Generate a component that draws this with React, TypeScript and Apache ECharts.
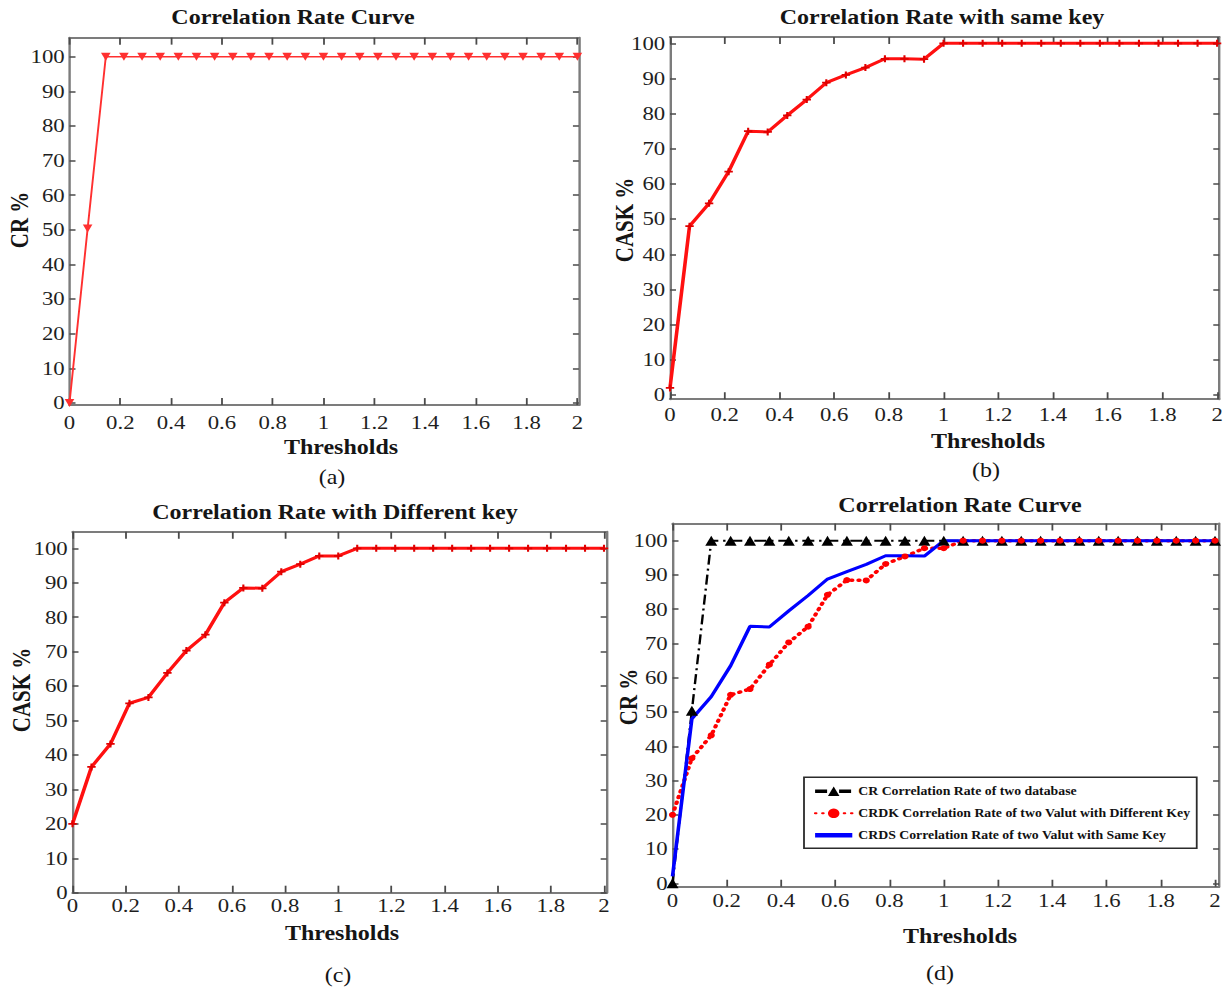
import React, { useEffect, useRef } from "react";
import * as echarts from "echarts";

// ---------------- data ----------------
const thresholds = [
  0, 0.0714, 0.1429, 0.2143, 0.2857, 0.3571, 0.4286, 0.5, 0.5714, 0.6429,
  0.7143, 0.7857, 0.8571, 0.9286, 1, 1.0714, 1.1429, 1.2143, 1.2857, 1.3571,
  1.4286, 1.5, 1.5714, 1.6429, 1.7143, 1.7857, 1.8571, 1.9286, 2,
];
// (a) / CR : correlation rate of two database
const crRate = [
  0, 50.4, 100, 100, 100, 100, 100, 100, 100, 100, 100, 100, 100, 100, 100,
  100, 100, 100, 100, 100, 100, 100, 100, 100, 100, 100, 100, 100, 100,
];
// (b) / CRDS : same key
const sameKeyRate = [
  2, 48, 54.5, 63.5, 75, 74.8, 79.5, 84, 88.8, 91, 93.1, 95.6, 95.6, 95.5, 100,
  100, 100, 100, 100, 100, 100, 100, 100, 100, 100, 100, 100, 100, 100,
];
// (c) / CRDK : different key
const diffKeyRate = [
  20, 36.5, 43.2, 55, 56.7, 63.8, 70.3, 74.9, 84.2, 88.5, 88.4, 93.2, 95.4,
  97.8, 97.8, 100, 100, 100, 100, 100, 100, 100, 100, 100, 100, 100, 100, 100,
  100,
];
const xTicks = [0, 0.2, 0.4, 0.6, 0.8, 1, 1.2, 1.4, 1.6, 1.8, 2];
const yTicks = [0, 10, 20, 30, 40, 50, 60, 70, 80, 90, 100];
const panelTitles = [
  "Correlation Rate Curve",
  "Correlation Rate with same key",
  "Correlation Rate with Different key",
  "Correlation Rate Curve",
];
const yNames = ["CR %", "CASK %", "CASK %", "CR %"];
const xName = "Thresholds";
const captions = ["(a)", "(b)", "(c)", "(d)"];
const legendNames = [
  "CR Correlation Rate of two database",
  "CRDK Correlation Rate of two Valut with Different Key",
  "CRDS Correlation Rate of two Valut with Same Key",
];

// ---------------- layout ----------------
const S = 1.2; // the figure is horizontally stretched
const W = 1226 / S;
const H = 987;
const X = (v: number) => v / S;
const FONT = "'Liberation Serif', 'Times New Roman', serif";

const PANELS = [
  { x0: 69.5, x2: 577.4, xMax: 2.006, y0: 403, y100: 56.7, yMin: -0.6, yMax: 105.5, lm: 8, title: [293, 17], yName: [19.8, 220], xName: [341, 447], caption: [332, 477] },
  { x0: 670, x2: 1219.8, xMax: 2.008, y0: 395, y100: 43.3, yMin: -1.2, yMax: 101.8, lm: 6, title: [942, 17], yName: [624, 220], xName: [988, 441.7], caption: [986, 470] },
  { x0: 72.5, x2: 604, xMax: 2.01, y0: 892.7, y100: 548.3, yMin: 0, yMax: 104.8, lm: 3, title: [335, 512], yName: [21.8, 690], xName: [342, 933.3], caption: [338, 975] },
  { x0: 672.5, x2: 1215, xMax: 2.015, y0: 883.3, y100: 540.7, yMin: -1, yMax: 105, lm: 4, title: [960, 505], yName: [628, 697], xName: [960, 936.7], caption: [940, 973] },
];

const AXIS_COLOR = "#7c7c7c";
const TICK_COLOR = "#4a4a4a";
const RED = "#ff1010";
const PLUS = "path://M3,0H5V3H8V5H5V8H3V5H0V3H3Z";

const pairs = (ys: number[]) => thresholds.map((x, i) => [x, ys[i]]);

function buildOption() {
  const grids: any[] = [];
  const xAxes: any[] = [];
  const yAxes: any[] = [];
  const titles: any[] = [];
  const graphics: any[] = [];

  const labelStyle = { fontFamily: FONT, fontSize: 19, color: "#1e1e1e" };

  PANELS.forEach((p) => {
    const pxX = (p.x2 - p.x0) / 2;
    const pxY = (p.y0 - p.y100) / 100;
    grids.push({
      left: X(p.x0),
      width: X(pxX * p.xMax),
      top: p.y100 - (p.yMax - 100) * pxY,
      height: (p.yMax - p.yMin) * pxY,
      containLabel: false,
    });
  });

  // bottom / left axes (with labels)
  PANELS.forEach((p, i) => {
    xAxes.push({
      type: "value",
      gridIndex: i,
      position: "bottom",
      min: 0,
      max: p.xMax,
      axisLine: { show: true, onZero: false, lineStyle: { color: AXIS_COLOR, width: 2 } },
      axisTick: { show: true, inside: true, length: 7, customValues: xTicks, lineStyle: { color: TICK_COLOR, width: 1.5 } },
      axisLabel: { show: true, margin: p.lm, customValues: xTicks, formatter: (v: number) => String(v), ...labelStyle },
      splitLine: { show: false },
    });
    yAxes.push({
      type: "value",
      gridIndex: i,
      position: "left",
      min: p.yMin,
      max: p.yMax,
      axisLine: { show: true, onZero: false, lineStyle: { color: AXIS_COLOR, width: 2 } },
      axisTick: { show: true, inside: true, length: 5, customValues: yTicks, lineStyle: { color: TICK_COLOR, width: 1.5 } },
      axisLabel: { show: true, margin: 4, customValues: yTicks, formatter: (v: number) => String(v), ...labelStyle },
      splitLine: { show: false },
    });
  });
  // top / right axes (box, ticks only)
  PANELS.forEach((p, i) => {
    xAxes.push({
      type: "value",
      gridIndex: i,
      position: "top",
      min: 0,
      max: p.xMax,
      axisLine: { show: true, onZero: false, lineStyle: { color: AXIS_COLOR, width: 2 } },
      axisTick: { show: true, inside: true, length: 7, customValues: xTicks, lineStyle: { color: TICK_COLOR, width: 1.5 } },
      axisLabel: { show: false },
      splitLine: { show: false },
    });
    yAxes.push({
      type: "value",
      gridIndex: i,
      position: "right",
      min: p.yMin,
      max: p.yMax,
      axisLine: { show: true, onZero: false, lineStyle: { color: AXIS_COLOR, width: 2 } },
      axisTick: { show: true, inside: true, length: 5, customValues: yTicks, lineStyle: { color: TICK_COLOR, width: 1.5 } },
      axisLabel: { show: false },
      splitLine: { show: false },
    });
  });

  PANELS.forEach((p, i) => {
    titles.push({
      text: panelTitles[i],
      left: X(p.title[0]),
      top: p.title[1] - 10,
      textAlign: "center",
      padding: 0,
      textStyle: { fontFamily: FONT, fontWeight: "bold", fontSize: 20, lineHeight: 20, color: "#151515" },
    });
    graphics.push({
      type: "text",
      x: X(p.yName[0]),
      y: p.yName[1],
      rotation: Math.PI / 2,
      style: { text: yNames[i], fontFamily: FONT, fontWeight: "bold", fontSize: 21, fill: "#151515", align: "center", verticalAlign: "middle" },
    });
    graphics.push({
      type: "text",
      x: X(p.xName[0]),
      y: p.xName[1],
      style: { text: xName, fontFamily: FONT, fontWeight: "bold", fontSize: 20, fill: "#151515", align: "center", verticalAlign: "middle" },
    });
    graphics.push({
      type: "text",
      x: X(p.caption[0]),
      y: p.caption[1],
      style: { text: captions[i], fontFamily: FONT, fontSize: 20, fill: "#151515", align: "center", verticalAlign: "middle" },
    });
  });

  const series: any[] = [
    {
      name: "a-cr",
      type: "line",
      xAxisIndex: 0,
      yAxisIndex: 0,
      data: pairs(crRate),
      symbol: "triangle",
      symbolRotate: 180,
      symbolSize: 8,
      lineStyle: { color: "#ff3030", width: 1.6 },
      itemStyle: { color: "#ff3030" },
    },
    {
      name: "b-same",
      type: "line",
      xAxisIndex: 1,
      yAxisIndex: 1,
      data: pairs(sameKeyRate),
      symbol: PLUS,
      symbolSize: 7,
      lineStyle: { color: RED, width: 3 },
      itemStyle: { color: "#e00000" },
    },
    {
      name: "c-diff",
      type: "line",
      xAxisIndex: 2,
      yAxisIndex: 2,
      data: pairs(diffKeyRate),
      symbol: PLUS,
      symbolSize: 7,
      lineStyle: { color: RED, width: 3 },
      itemStyle: { color: "#e00000" },
    },
    {
      name: legendNames[0],
      type: "line",
      xAxisIndex: 3,
      yAxisIndex: 3,
      data: pairs(crRate),
      symbol: "triangle",
      symbolSize: 10,
      lineStyle: { color: "#000", width: 2, type: [10, 4, 2, 4] },
      itemStyle: { color: "#000" },
    },
    {
      name: legendNames[1],
      type: "line",
      xAxisIndex: 3,
      yAxisIndex: 3,
      data: pairs(diffKeyRate),
      symbol: "circle",
      symbolSize: 6,
      lineStyle: { color: "#ff0000", width: 3.5, type: [1, 5], cap: "round" },
      itemStyle: { color: "#ff0000" },
    },
    {
      name: legendNames[2],
      type: "line",
      xAxisIndex: 3,
      yAxisIndex: 3,
      data: pairs(sameKeyRate),
      symbol: "none",
      lineStyle: { color: "#0000ff", width: 3 },
      itemStyle: { color: "#0000ff" },
    },
  ];

  return {
    animation: false,
    backgroundColor: "#ffffff",
    title: titles,
    grid: grids,
    xAxis: xAxes,
    yAxis: yAxes,
    legend: {
      data: [
        { name: legendNames[0], lineStyle: { width: 3.5 } },
        { name: legendNames[1] },
        { name: legendNames[2], itemStyle: { opacity: 0 }, lineStyle: { width: 4.5 } },
      ],
      orient: "vertical",
      left: X(804),
      top: 777.3,
      padding: [8, 5, 7, 7],
      itemGap: 10,
      itemWidth: 31,
      itemHeight: 12,
      borderColor: "#2b2b2b",
      borderWidth: 1.5,
      backgroundColor: "#ffffff",
      selectedMode: false,
      textStyle: { fontFamily: FONT, fontWeight: "bold", fontSize: 11.5, color: "#111" },
    },
    graphic: graphics,
    series,
  };
}

export default function App() {
  const ref = useRef<HTMLDivElement>(null);
  useEffect(() => {
    document.body.style.margin = "0";
    const chart = echarts.init(ref.current!, undefined, { renderer: "svg" });
    chart.setOption(buildOption() as any);
    return () => chart.dispose();
  }, []);
  return (
    <div
      ref={ref}
      style={{
        position: "absolute",
        left: 0,
        top: 0,
        width: W,
        height: H,
        transform: `scaleX(${S})`,
        transformOrigin: "0 0",
        background: "#fff",
      }}
    />
  );
}
